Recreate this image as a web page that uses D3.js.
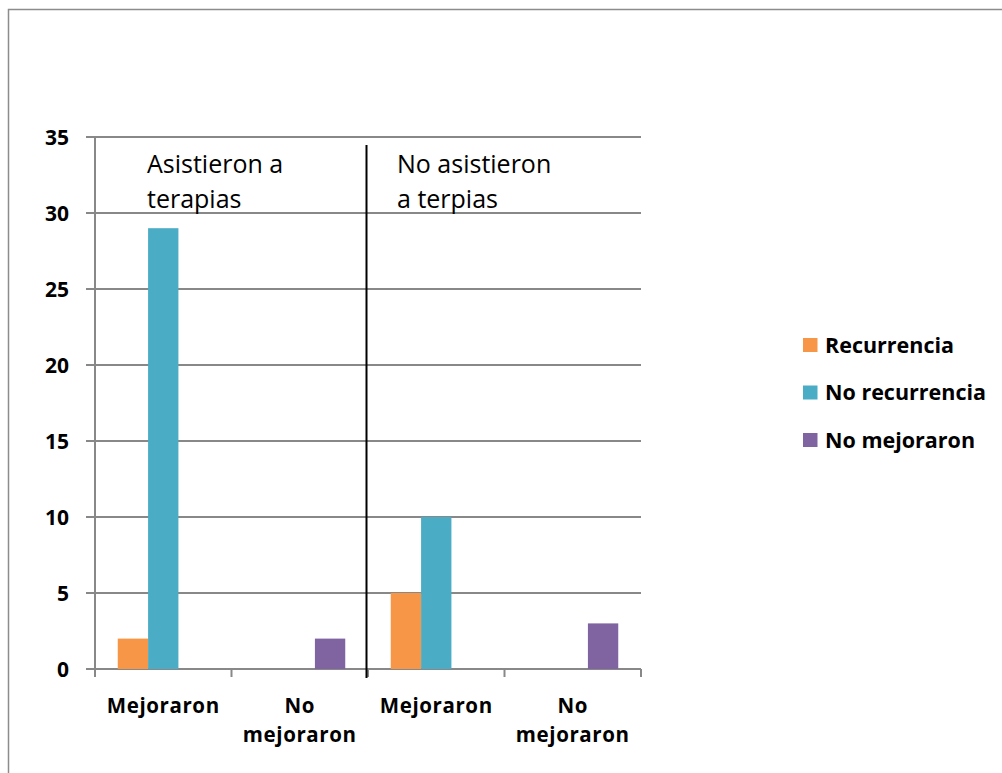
<!DOCTYPE html>
<html>
<head>
<meta charset="utf-8">
<script src="https://cdnjs.cloudflare.com/ajax/libs/d3/7.8.5/d3.min.js"></script>
<style>
  body { margin: 0; background: #fff; }
  svg text { font-family: 'Open Sans', 'Noto Sans', sans-serif; fill: #000; }
</style>
</head>
<body>
<div id="chart"></div>
<script>

// data
const categories = ["Mejoraron", "No mejoraron", "Mejoraron ", "No mejoraron "];
const catLabels = [["Mejoraron"], ["No", "mejoraron"], ["Mejoraron"], ["No", "mejoraron"]];
const seriesNames = ["Recurrencia", "No recurrencia", "No mejoraron"];
const recurrencia = [2, 0, 5, 0];
const noRecurrencia = [29, 0, 10, 0];
const noMejoraron = [0, 2, 0, 3];
const yTicks = [0, 5, 10, 15, 20, 25, 30, 35];
const groupNotes = [["Asistieron a", "terapias"], ["No asistieron", "a terpias"]];

const colors = ["#F79646", "#4BACC6", "#8064A2"];
const series = [recurrencia, noRecurrencia, noMejoraron];

const W = 1002, H = 773;
const svg = d3.select("#chart").append("svg")
  .attr("width", W).attr("height", H);

// outer frame
svg.append("rect")
  .attr("x", 8.5).attr("y", 9.5)
  .attr("width", W).attr("height", H)
  .attr("fill", "none")
  .attr("stroke", "#8c8c8c")
  .attr("stroke-width", 1.5);

const pLeft = 95, pRight = 641, pTop = 137, pBottom = 669;

const x = d3.scaleBand().domain(categories).range([pLeft, pRight]).paddingInner(0).paddingOuter(0);
const inner = d3.scaleBand().domain(d3.range(3)).range([0, x.bandwidth()]).paddingOuter(0.75).paddingInner(0);
const y = d3.scaleLinear().domain([0, 35]).range([pBottom, pTop]);

// gridlines with outside ticks
svg.append("g")
  .selectAll("line")
  .data(yTicks)
  .join("line")
  .attr("x1", pLeft - 9).attr("x2", pRight)
  .attr("y1", d => y(d)).attr("y2", d => y(d))
  .attr("stroke", "#888")
  .attr("stroke-width", 2);

// y tick labels
svg.append("g")
  .selectAll("text")
  .data(yTicks)
  .join("text")
  .attr("x", 69)
  .attr("y", d => y(d) + 8)
  .attr("text-anchor", "end")
  .attr("font-size", 21)
  .attr("font-weight", "bold")
  .text(d => d);

// bars
series.forEach((vals, si) => {
  svg.append("g")
    .selectAll("rect")
    .data(vals)
    .join("rect")
    .attr("x", (d, i) => x(categories[i]) + inner(si))
    .attr("y", d => y(d))
    .attr("width", inner.bandwidth())
    .attr("height", d => y(0) - y(d))
    .attr("fill", colors[si]);
});

// y axis line
svg.append("line")
  .attr("x1", pLeft).attr("x2", pLeft)
  .attr("y1", pTop).attr("y2", pBottom + 8)
  .attr("stroke", "#888").attr("stroke-width", 2);

// x tick marks
const xTickPos = categories.map(c => x(c)).concat([pRight]);
svg.append("g")
  .selectAll("line")
  .data(xTickPos.slice(1))
  .join("line")
  .attr("x1", d => d).attr("x2", d => d)
  .attr("y1", pBottom).attr("y2", pBottom + 8)
  .attr("stroke", "#888").attr("stroke-width", 2);

// category labels
const xl = svg.append("g")
  .selectAll("text")
  .data(catLabels)
  .join("text")
  .attr("x", (d, i) => x(categories[i]) + x.bandwidth() / 2)
  .attr("y", 713)
  .attr("text-anchor", "middle")
  .attr("font-size", 20.5)
  .attr("letter-spacing", 0.6)
  .attr("font-weight", "bold");
xl.selectAll("tspan")
  .data(d => d)
  .join("tspan")
  .attr("x", function() { return d3.select(this.parentNode).attr("x"); })
  .attr("dy", (d, i) => i === 0 ? 0 : 29)
  .text(d => d);

// divider between groups
svg.append("line")
  .attr("x1", x(categories[2]) - 1.5).attr("x2", x(categories[2]) - 1.5)
  .attr("y1", 145).attr("y2", 678)
  .attr("stroke", "#000").attr("stroke-width", 2);

// group notes
const notesX = [147, 397];
groupNotes.forEach((lines, gi) => {
  svg.append("text")
    .attr("x", notesX[gi]).attr("y", 173)
    .attr("font-size", 25)
    .selectAll("tspan")
    .data(lines)
    .join("tspan")
    .attr("x", notesX[gi])
    .attr("dy", (d, i) => i === 0 ? 0 : 35)
    .text(d => d);
});

// legend
const lg = svg.append("g")
  .selectAll("g")
  .data(seriesNames)
  .join("g")
  .attr("transform", (d, i) => `translate(803, ${338 + i * 47.5})`);
lg.append("rect")
  .attr("width", 14.5).attr("height", 14)
  .attr("fill", (d, i) => colors[i]);
lg.append("text")
  .attr("x", 22).attr("y", 14.5)
  .attr("font-size", 21.5)
  .attr("font-weight", "bold")
  .text(d => d);

</script>
</body>
</html>
